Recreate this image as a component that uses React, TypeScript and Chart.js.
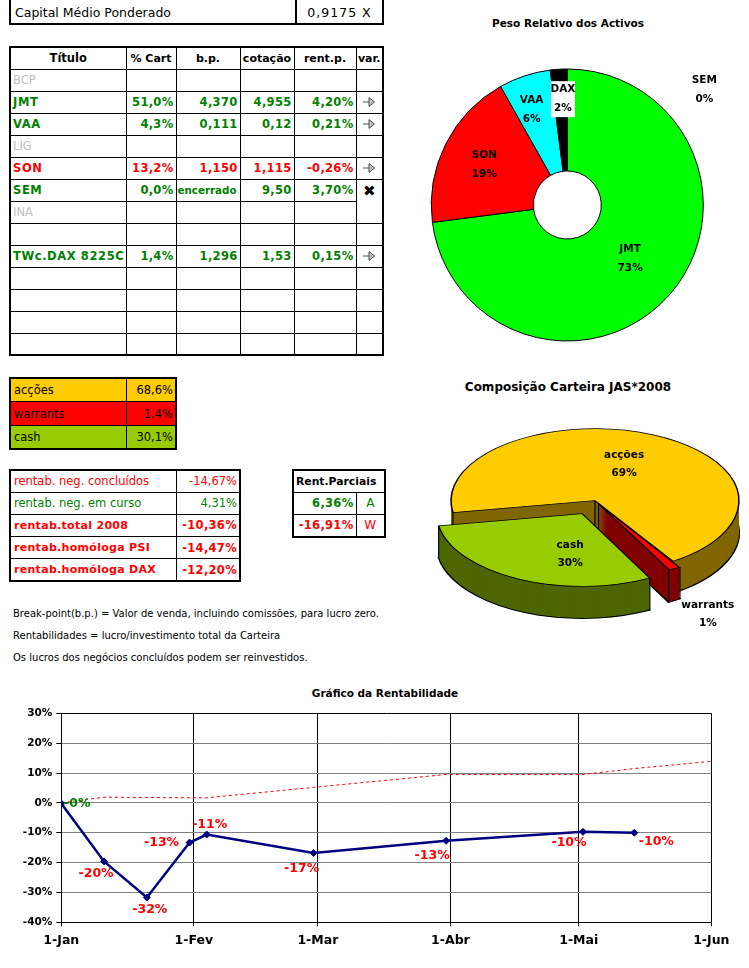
import { useEffect, useRef } from 'react';
import { Chart, registerables } from 'chart.js';

Chart.register(...registerables);

const FONT = '"DejaVu Sans", Verdana, sans-serif';
const GREEN = '#008000';
const RED = '#FF0000';
const GREY = '#C0C0C0';

// ---- tabela de títulos ----
const tableHeaders = ['Título', '% Cart', 'b.p.', 'cotação', 'rent.p.', 'var.'];
const titleNames = ['BCP', 'JMT', 'VAA', 'LIG', 'SON', 'SEM', 'INA', '', 'TWc.DAX 8225C', '', '', '', ''];
const titleTone = ['idle', 'gain', 'gain', 'idle', 'loss', 'gain', 'idle', '', 'gain', '', '', '', ''];
const titleCart = ['', '51,0%', '4,3%', '', '13,2%', '0,0%', '', '', '1,4%', '', '', '', ''];
const titleBreakPoint = ['', '4,370', '0,111', '', '1,150', 'encerrado', '', '', '1,296', '', '', '', ''];
const titleQuote = ['', '4,955', '0,12', '', '1,115', '9,50', '', '', '1,53', '', '', '', ''];
const titleReturn = ['', '4,20%', '0,21%', '', '-0,26%', '3,70%', '', '', '0,15%', '', '', '', ''];
const titleTrend = ['', 'flat', 'flat', '', 'flat', 'closed', '', '', 'flat', '', '', '', ''];

// ---- peso relativo (donut) ----
const weightLabels = ['JMT', 'SON', 'VAA', 'DAX', 'SEM'];
const weightValues = [51.0, 13.2, 4.3, 1.4, 0.0];
const weightColors = ['#00FF00', '#FF0000', '#00FFFF', '#000000', '#FFFFFF'];

// ---- composição carteira ----
const assetClasses = ['acções', 'warrants', 'cash'];
const assetShares = [68.6, 1.4, 30.1];
const assetColors = ['#FFCC00', '#FF0000', '#99CC00'];
const assetSideColors = ['#806600', '#800000', '#4D6600'];

// ---- rentabilidades ----
const returnLabels = ['rentab. neg. concluídos', 'rentab. neg. em curso', 'rentab.total 2008', 'rentab.homóloga PSI', 'rentab.homóloga DAX'];
const returnValues = ['-14,67%', '4,31%', '-10,36%', '-14,47%', '-12,20%'];
const returnTone = ['lossLight', 'gainLight', 'loss', 'loss', 'loss'];
const partialValues = ['6,36%', '-16,91%'];
const partialCodes = ['A', 'W'];

const notes = [
  'Break-point(b.p.) = Valor de venda, incluindo comissões, para lucro zero.',
  'Rentabilidades = lucro/investimento total da Carteira',
  'Os lucros dos negócios concluídos podem ser reinvestidos.',
];

// ---- gráfico da rentabilidade (dias desde 1-Jan-2008) ----
const monthDays = [0, 31, 60, 91, 121, 152];
const monthLabels = ['1-Jan', '1-Fev', '1-Mar', '1-Abr', '1-Mai', '1-Jun'];
const portfolioDays = [0, 10, 20, 30, 34, 59, 90, 122, 134];
const portfolioReturn = [-0.2, -19.6, -31.7, -13.3, -10.6, -16.8, -12.7, -9.7, -10.0];
const benchmarkDays = [0, 10, 20, 30, 34, 59, 90, 122, 134, 152];
const benchmarkReturn = [0, 1.9, 1.8, 1.7, 1.7, 5.2, 9.5, 9.5, 11.5, 13.9];

// label placement (px, relative to point / slice)
const returnLabelOffsets = [[16, 0], [-8, 12], [3, 12], [-28, 0], [3, -10], [-12, 16], [-14, 15], [-14, 11], [22, 9]];
const weightLabelNudge = [[-1, -2], [-7, -2], [-9, -15], [1, -21], [137, -30]];
const assetLabelNudge = [[0, -4], [73, 79], [20, 8]];

const toneStyle = (tone: string) => {
  if (tone === 'idle') return { color: GREY, fontWeight: 'normal' as const };
  if (tone === 'gain') return { color: GREEN, fontWeight: 'bold' as const };
  if (tone === 'loss') return { color: RED, fontWeight: 'bold' as const };
  if (tone === 'gainLight') return { color: GREEN, fontWeight: 'normal' as const };
  if (tone === 'lossLight') return { color: RED, fontWeight: 'normal' as const };
  return { color: '#000', fontWeight: 'normal' as const };
};

const pct = (v: number) => `${v.toFixed(1).replace('.', ',')}%`;

function FlatArrow() {
  return (
    <svg width="14" height="12" viewBox="0 0 14 12" style={{ display: 'block', margin: '0 auto' }}>
      <line x1="1" y1="6" x2="7" y2="6" stroke="#505050" strokeWidth="1" />
      <polygon points="7,1.5 12.5,6 7,10.5" fill="#C0C0C0" stroke="#505050" strokeWidth="1" />
    </svg>
  );
}

const cellBorder = '1px solid #000';

function HoldingsTable() {
  const widths = [116, 50, 64, 54, 62, 27];
  const cell = { border: cellBorder, padding: '0 2px', whiteSpace: 'nowrap' as const, overflow: 'hidden' as const };
  return (
    <table style={{ position: 'absolute', left: 9, top: 46, width: 375, borderCollapse: 'collapse', tableLayout: 'fixed', border: '2px solid #000', fontFamily: FONT }}>
      <colgroup>
        {widths.map((w, i) => <col key={i} style={{ width: w }} />)}
      </colgroup>
      <tbody>
        <tr style={{ height: 22 }}>
          {tableHeaders.map((h, i) => (
            <td key={h} style={{ ...cell, textAlign: 'center', fontWeight: 'bold', fontSize: i === 0 ? 11.5 : 11, padding: 0 }}>{h}</td>
          ))}
        </tr>
        {titleNames.map((name, r) => {
          const tone = toneStyle(titleTone[r]);
          const num = { ...cell, textAlign: 'right' as const, fontSize: 11.5, letterSpacing: 0.3, ...tone };
          const trend = titleTrend[r];
          const closedAbove = r > 0 && titleTrend[r - 1] === 'closed';
          return (
            <tr key={r} style={{ height: 22 }}>
              <td style={{ ...cell, fontSize: 11.5, letterSpacing: titleTone[r] === 'idle' ? 0 : 0.6, ...tone }}>{name}</td>
              <td style={num}>{titleCart[r]}</td>
              <td style={{ ...num, ...(titleBreakPoint[r] === 'encerrado' ? { fontSize: 10.3, letterSpacing: 0, textAlign: 'left', padding: '0 1px' } : {}) }}>{titleBreakPoint[r]}</td>
              <td style={num}>{titleQuote[r]}</td>
              <td style={num}>{titleReturn[r]}</td>
              <td style={{ ...cell, padding: 0, textAlign: 'center', verticalAlign: 'middle', ...(trend === 'closed' ? { borderBottom: 'hidden' } : {}), ...(closedAbove ? { borderTop: 'hidden' } : {}) }}>
                {trend === 'flat' ? <FlatArrow /> : trend === 'closed' ? <span style={{ fontWeight: 'bold', fontSize: 15 }}>✖</span> : null}
              </td>
            </tr>
          );
        })}
      </tbody>
    </table>
  );
}

function CapitalBox() {
  return (
    <div style={{ position: 'absolute', left: 9, top: -2, width: 371, height: 23, border: '2px solid #000', fontFamily: FONT, fontSize: 12.5, display: 'flex' }}>
      <div style={{ width: 280, paddingLeft: 4, lineHeight: '25px', borderRight: '2px solid #000' }}>Capital Médio Ponderado</div>
      <div style={{ flex: 1, textAlign: 'center', lineHeight: '25px', letterSpacing: 1 }}>0,9175 X</div>
    </div>
  );
}

function AllocationTable() {
  return (
    <table style={{ position: 'absolute', left: 9, top: 377, width: 167, borderCollapse: 'collapse', tableLayout: 'fixed', border: '2px solid #000', fontFamily: FONT, fontSize: 11.5 }}>
      <colgroup><col style={{ width: 116 }} /><col style={{ width: 50 }} /></colgroup>
      <tbody>
        {assetClasses.map((a, i) => (
          <tr key={a} style={{ height: 23.7, background: assetColors[i] }}>
            <td style={{ border: cellBorder, padding: '0 3px' }}>{a}</td>
            <td style={{ border: cellBorder, padding: '0 2px', textAlign: 'right' }}>{pct(assetShares[i])}</td>
          </tr>
        ))}
      </tbody>
    </table>
  );
}

function ReturnsTable() {
  return (
    <table style={{ position: 'absolute', left: 9, top: 469, width: 231, borderCollapse: 'collapse', tableLayout: 'fixed', border: '2px solid #000', fontFamily: FONT }}>
      <colgroup><col style={{ width: 166 }} /><col style={{ width: 64 }} /></colgroup>
      <tbody>
        {returnLabels.map((l, i) => {
          const tone = toneStyle(returnTone[i]);
          const bold = tone.fontWeight === 'bold';
          return (
            <tr key={l} style={{ height: 22.2 }}>
              <td style={{ border: cellBorder, padding: '0 3px', fontSize: bold ? 11 : 11.5, letterSpacing: bold ? 0.3 : 0, whiteSpace: 'nowrap', ...tone }}>{l}</td>
              <td style={{ border: cellBorder, padding: '0 2px', textAlign: 'right', fontSize: 11.5, letterSpacing: bold ? 0.3 : 0, whiteSpace: 'nowrap', ...tone }}>{returnValues[i]}</td>
            </tr>
          );
        })}
      </tbody>
    </table>
  );
}

function PartialsTable() {
  return (
    <table style={{ position: 'absolute', left: 292, top: 469, width: 92, borderCollapse: 'collapse', tableLayout: 'fixed', border: '2px solid #000', fontFamily: FONT }}>
      <colgroup><col style={{ width: 63 }} /><col style={{ width: 29 }} /></colgroup>
      <tbody>
        <tr style={{ height: 22.2 }}>
          <td colSpan={2} style={{ border: cellBorder, padding: '0 2px', fontWeight: 'bold', fontSize: 10.8, whiteSpace: 'nowrap' }}>Rent.Parciais</td>
        </tr>
        {partialValues.map((v, i) => {
          const color = v.startsWith('-') ? RED : GREEN;
          return (
            <tr key={v} style={{ height: 22.2 }}>
              <td style={{ border: cellBorder, padding: '0 2px', textAlign: 'right', fontWeight: 'bold', fontSize: 11.5, letterSpacing: 0.3, color, whiteSpace: 'nowrap' }}>{v}</td>
              <td style={{ border: cellBorder, padding: 0, textAlign: 'center', fontSize: 12, color }}>{partialCodes[i]}</td>
            </tr>
          );
        })}
      </tbody>
    </table>
  );
}

function WeightDonut() {
  const canvasRef = useRef<HTMLCanvasElement>(null);
  useEffect(() => {
    if (!canvasRef.current) return;
    const total = weightValues.reduce((a, b) => a + b, 0);
    const labelPlugin = {
      id: 'weightLabels',
      afterDatasetsDraw(chart: any) {
        const { ctx } = chart;
        const arcs = chart.getDatasetMeta(0).data;
        ctx.save();
        ctx.font = `bold 10.5px ${FONT}`;
        ctx.textAlign = 'center';
        ctx.textBaseline = 'middle';
        arcs.forEach((arc: any, i: number) => {
          const p = arc.tooltipPosition(false);
          const x = p.x + weightLabelNudge[i][0];
          const y = p.y + weightLabelNudge[i][1];
          if (weightLabels[i] === 'DAX') {
            ctx.fillStyle = '#FFFFFF';
            ctx.fillRect(x - 12, y - 18, 24, 36);
          }
          ctx.fillStyle = '#000';
          ctx.fillText(weightLabels[i], x, y - 9.5);
          ctx.fillText(`${Math.round((weightValues[i] / total) * 100)}%`, x, y + 9.5);
        });
        ctx.restore();
      },
    };
    const chart = new Chart(canvasRef.current, {
      type: 'doughnut',
      data: {
        labels: weightLabels,
        datasets: [{
          data: weightValues,
          backgroundColor: weightColors,
          borderColor: '#000',
          borderWidth: 1,
          radius: 136,
          cutout: '25%',
          clip: false,
        } as any],
      },
      options: {
        animation: false,
        responsive: true,
        maintainAspectRatio: false,
        radius: 136,
        cutout: '25%',
        layout: { padding: { top: 50, right: 14.4, left: 0, bottom: 0 } },
        plugins: { legend: { display: false }, tooltip: { enabled: false }, title: { display: false } },
      } as any,
      plugins: [labelPlugin],
    });
    return () => chart.destroy();
  }, []);
  return (
    <div style={{ position: 'absolute', left: 400, top: 0, width: 349, height: 360 }}>
      <canvas ref={canvasRef} />
    </div>
  );
}

const MIX_TILT = 0.5;
const MIX_DEPTH = 32;
const MIX_CENTER = { x: 175, y: 130.7 };

// geometry of an exploded pie slice, as Chart.js draws it
function sectorGeometry(arc: any) {
  const { x, y, startAngle, endAngle, outerRadius } = arc;
  const off = (arc.options.offset || 0) / 4;
  const fix = 1 - Math.sin(Math.min(Math.PI, endAngle - startAngle));
  const r = outerRadius + off * fix;
  const mid = (startAngle + endAngle) / 2;
  return { ox: x + Math.cos(mid) * off, oy: y + Math.sin(mid) * off, r, startAngle, endAngle };
}

function sectorPath(ctx: CanvasRenderingContext2D, arc: any) {
  const g = sectorGeometry(arc);
  ctx.beginPath();
  ctx.moveTo(g.ox, g.oy);
  ctx.arc(g.ox, g.oy, g.r, g.startAngle, g.endAngle);
  ctx.closePath();
}

function AssetPie() {
  const canvasRef = useRef<HTMLCanvasElement>(null);
  useEffect(() => {
    if (!canvasRef.current) return;
    const pie3d = {
      id: 'pie3d',
      beforeDatasetsDraw(chart: any) {
        const { ctx } = chart;
        const arcs = chart.getDatasetMeta(0).data;
        const cx = arcs[0].x;
        const cy = arcs[0].y;
        ctx.save();
        ctx.translate(MIX_CENTER.x, MIX_CENTER.y);
        ctx.scale(1, MIX_TILT);
        ctx.translate(-cx, -cy);
        const drop = MIX_DEPTH / MIX_TILT;
        arcs.forEach((arc: any, i: number) => {
          for (let d = MIX_DEPTH; d >= 1; d--) {
            ctx.save();
            ctx.translate(0, d / MIX_TILT);
            sectorPath(ctx, arc);
            ctx.fillStyle = assetSideColors[i];
            ctx.fill();
            if (d === MIX_DEPTH) {
              ctx.lineWidth = 2;
              ctx.strokeStyle = '#000';
              ctx.stroke();
            }
            ctx.restore();
          }
          // vertical edges of the slice wall
          const g = sectorGeometry(arc);
          const corners = [
            [g.ox, g.oy],
            [g.ox + Math.cos(g.startAngle) * g.r, g.oy + Math.sin(g.startAngle) * g.r],
            [g.ox + Math.cos(g.endAngle) * g.r, g.oy + Math.sin(g.endAngle) * g.r],
          ];
          ctx.beginPath();
          corners.forEach(([px, py]) => {
            ctx.moveTo(px, py);
            ctx.lineTo(px, py + drop);
          });
          ctx.lineWidth = 1.2;
          ctx.strokeStyle = '#000';
          ctx.stroke();
        });
      },
      afterDatasetsDraw(chart: any) {
        const { ctx } = chart;
        ctx.restore();
        const arcs = chart.getDatasetMeta(0).data;
        const total = assetShares.reduce((a, b) => a + b, 0);
        ctx.save();
        ctx.font = `bold 10.5px ${FONT}`;
        ctx.textAlign = 'center';
        ctx.textBaseline = 'middle';
        ctx.fillStyle = '#000';
        arcs.forEach((arc: any, i: number) => {
          const mid = (arc.startAngle + arc.endAngle) / 2;
          const rr = arc.outerRadius / 2 + (arc.options.offset || 0) / 4;
          const x = MIX_CENTER.x + Math.cos(mid) * rr + assetLabelNudge[i][0];
          const y = MIX_CENTER.y + Math.sin(mid) * rr * MIX_TILT + assetLabelNudge[i][1];
          ctx.fillText(assetClasses[i], x, y - 9);
          ctx.fillText(`${Math.round((assetShares[i] / total) * 100)}%`, x, y + 9);
        });
        ctx.restore();
      },
    };
    const chart = new Chart(canvasRef.current, {
      type: 'pie',
      data: {
        labels: assetClasses,
        datasets: [{
          data: assetShares,
          backgroundColor: assetColors,
          borderColor: '#000',
          borderWidth: 1.5,
          offset: [0, 28, 116],
          radius: 144,
          rotation: 260.5,
          clip: false,
        } as any],
      },
      options: {
        animation: false,
        responsive: true,
        maintainAspectRatio: false,
        radius: 144,
        rotation: 260.5,
        plugins: { legend: { display: false }, tooltip: { enabled: false }, title: { display: false } },
      } as any,
      plugins: [pie3d],
    });
    return () => chart.destroy();
  }, []);
  return (
    <div style={{ position: 'absolute', left: 420, top: 370, width: 329, height: 280 }}>
      <canvas ref={canvasRef} />
    </div>
  );
}

function ReturnChart() {
  const canvasRef = useRef<HTMLCanvasElement>(null);
  useEffect(() => {
    if (!canvasRef.current) return;
    const valueLabels = {
      id: 'valueLabels',
      afterDatasetsDraw(chart: any) {
        const { ctx } = chart;
        const pts = chart.getDatasetMeta(0).data;
        ctx.save();
        ctx.font = `bold 12.5px ${FONT}`;
        ctx.textAlign = 'center';
        ctx.textBaseline = 'middle';
        pts.forEach((pt: any, i: number) => {
          const v = portfolioReturn[i];
          ctx.fillStyle = Math.abs(v) < 0.5 ? GREEN : RED;
          ctx.fillText(`${v.toFixed(0)}%`, pt.x + returnLabelOffsets[i][0], pt.y + returnLabelOffsets[i][1]);
        });
        ctx.restore();
      },
    };
    const chart = new Chart(canvasRef.current, {
      type: 'line',
      data: {
        datasets: [
          {
            label: 'Carteira',
            data: portfolioDays.map((d, i) => ({ x: d, y: portfolioReturn[i] })),
            borderColor: '#000080',
            backgroundColor: '#000080',
            borderWidth: 2.5,
            pointStyle: 'rectRot',
            pointRadius: 3.5,
            pointBorderWidth: 1,
            tension: 0,
          },
          {
            label: 'PSI',
            data: benchmarkDays.map((d, i) => ({ x: d, y: benchmarkReturn[i] })),
            borderColor: RED,
            backgroundColor: RED,
            borderWidth: 1,
            borderDash: [3, 3],
            pointRadius: 0,
            tension: 0,
          },
        ],
      },
      options: {
        animation: false,
        responsive: true,
        maintainAspectRatio: false,
        layout: { padding: { top: 33.3, right: 37.7, left: 0, bottom: 0 } },
        plugins: { legend: { display: false }, tooltip: { enabled: false }, title: { display: false } },
        scales: {
          x: {
            type: 'linear',
            min: 0,
            max: 152,
            afterBuildTicks: (s: any) => { s.ticks = monthDays.map((v) => ({ value: v })); },
            afterFit: (s: any) => { s.height = 45.7; },
            ticks: {
              autoSkip: false,
              maxRotation: 0,
              padding: 7,
              color: '#000',
              font: { family: FONT, size: 12.5, weight: 'bold' },
              callback: (v: any) => monthLabels[monthDays.indexOf(Number(v))] ?? '',
            },
            grid: { color: '#000', tickColor: '#000', tickLength: 4 },
            border: { color: '#000' },
          },
          y: {
            min: -40,
            max: 30,
            afterFit: (s: any) => { s.width = 61.3; },
            ticks: {
              stepSize: 10,
              padding: 4,
              color: '#000',
              font: { family: FONT, size: 10.5, weight: 'bold' },
              callback: (v: any) => `${v}%`,
            },
            grid: {
              color: (c: any) => (c.tick && c.tick.value === 30 ? '#000' : '#808080'),
              tickColor: '#000',
              tickLength: 5,
            },
            border: { color: '#000' },
          },
        },
      } as any,
      plugins: [valueLabels],
    });
    return () => chart.destroy();
  }, []);
  return (
    <div style={{ position: 'absolute', left: 0, top: 680, width: 749, height: 288 }}>
      <canvas ref={canvasRef} />
    </div>
  );
}

const titleStyle = { position: 'absolute' as const, fontFamily: FONT, fontWeight: 'bold' as const, fontSize: 10.5, transform: 'translate(-50%, -50%)', whiteSpace: 'nowrap' as const };

export default function App() {
  return (
    <div style={{ position: 'absolute', left: 0, top: 0, width: 749, height: 968, background: '#fff', overflow: 'hidden', fontFamily: FONT }}>
      <CapitalBox />
      <HoldingsTable />
      <AllocationTable />
      <ReturnsTable />
      <PartialsTable />
      {notes.map((n, i) => (
        <div key={i} style={{ position: 'absolute', left: 13, top: 608 + i * 22, fontSize: 10, whiteSpace: 'nowrap' }}>{n}</div>
      ))}
      <div style={{ ...titleStyle, left: 568, top: 23 }}>Peso Relativo dos Activos</div>
      <div style={{ ...titleStyle, left: 568, top: 387, fontSize: 12 }}>Composição Carteira JAS*2008</div>
      <div style={{ ...titleStyle, left: 385, top: 693 }}>Gráfico da Rentabilidade</div>
      <WeightDonut />
      <AssetPie />
      <ReturnChart />
    </div>
  );
}
